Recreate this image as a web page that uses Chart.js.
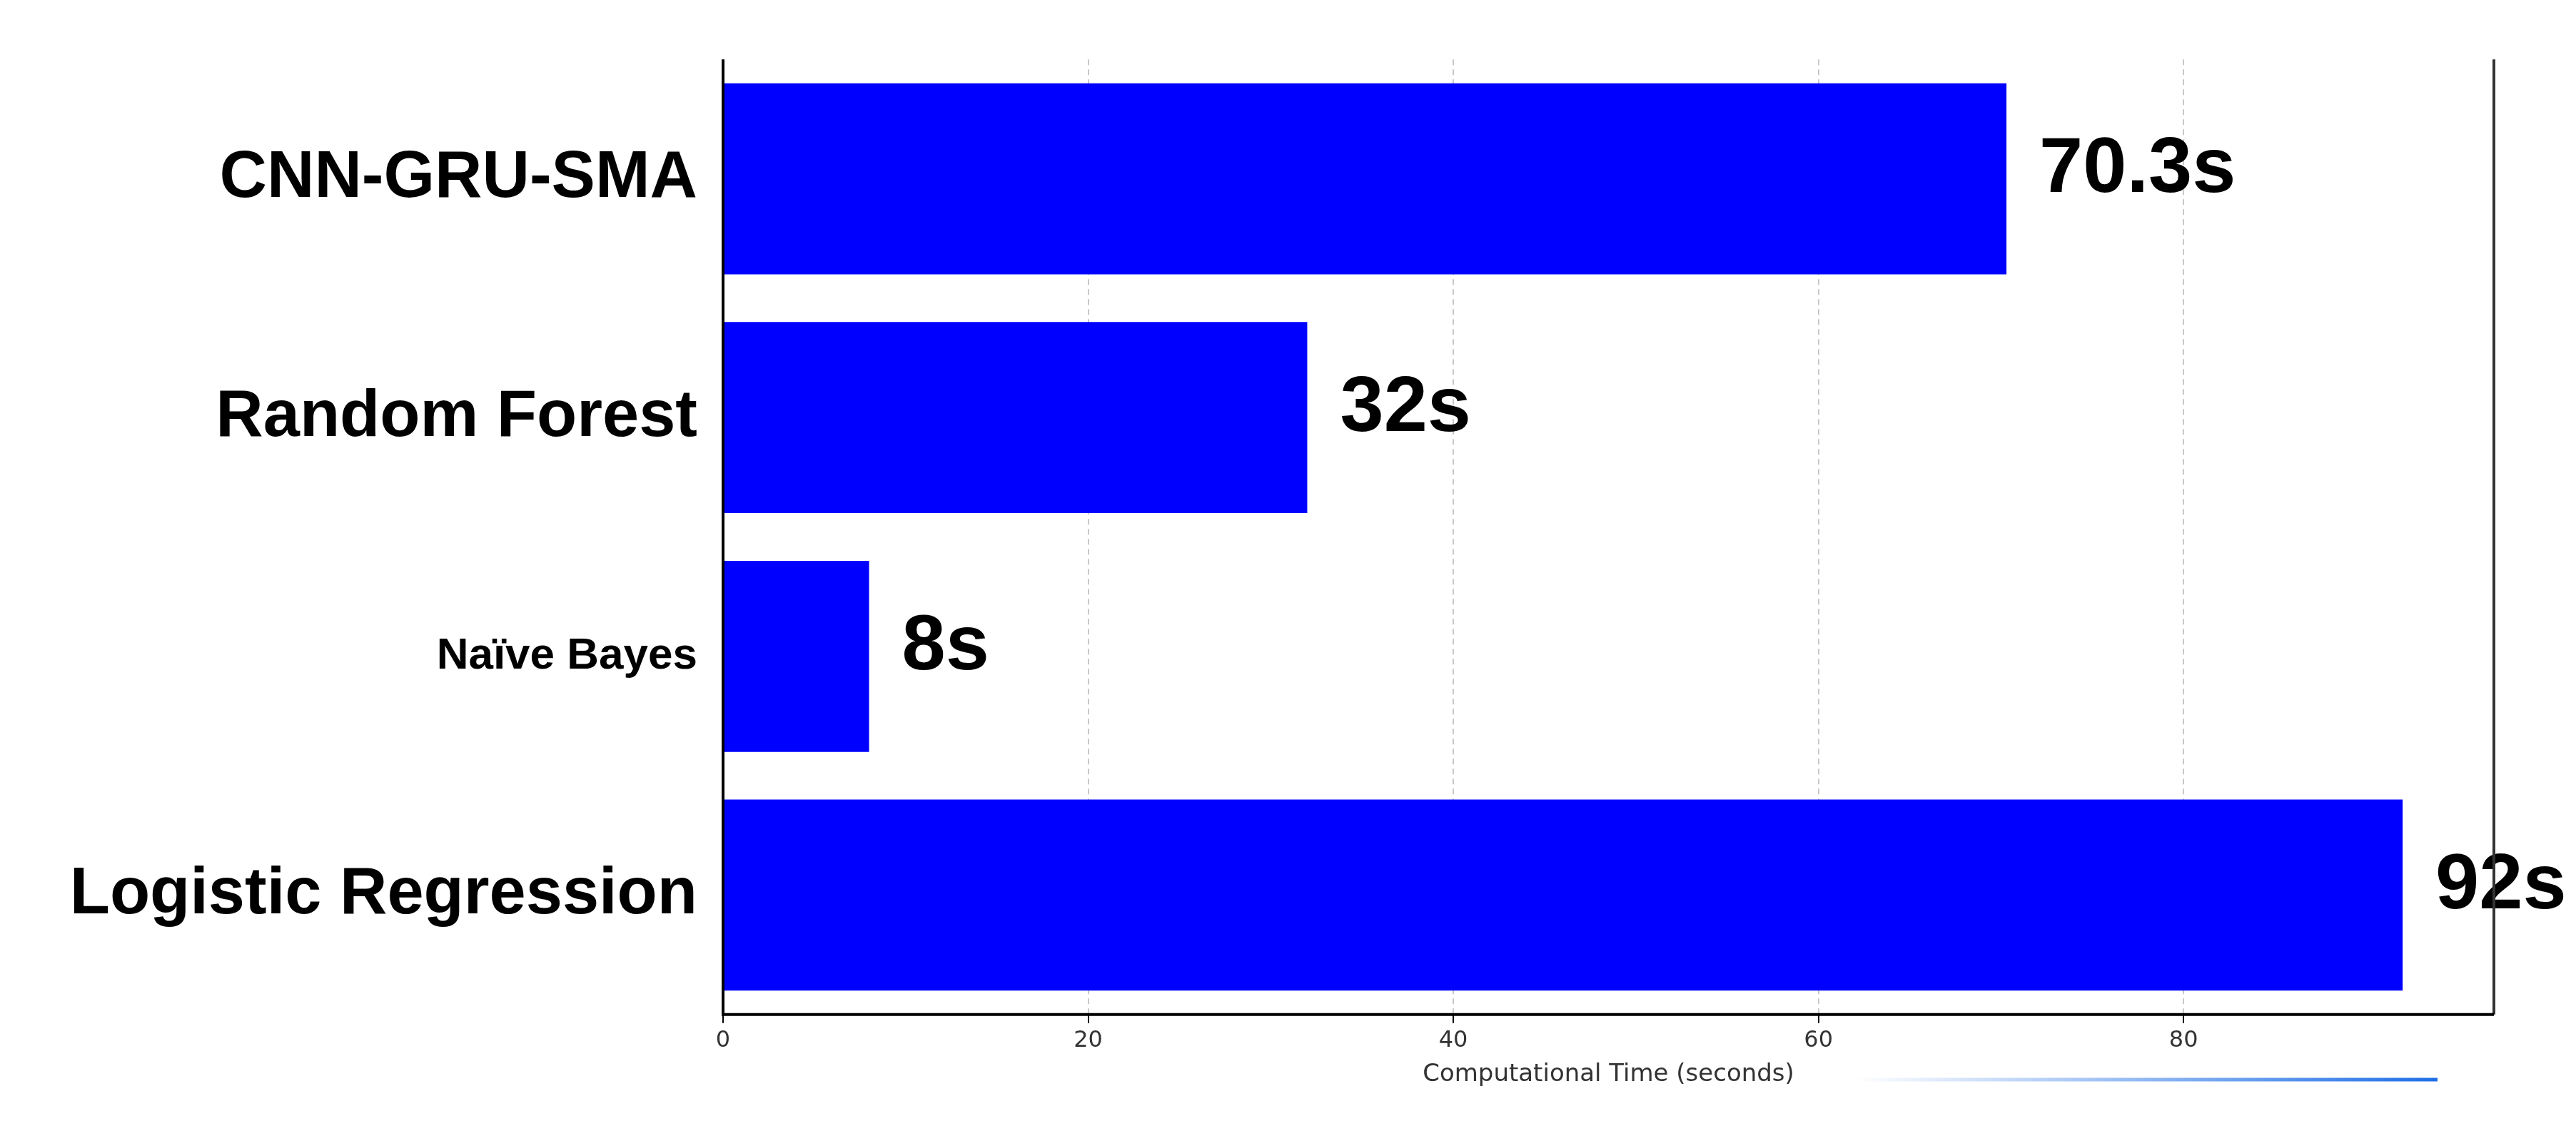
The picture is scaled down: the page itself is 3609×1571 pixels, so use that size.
<!DOCTYPE html>
<html><head><meta charset="utf-8">
<script src="https://cdn.jsdelivr.net/npm/chart.js@4/dist/chart.umd.min.js"></script>
<style>html,body{margin:0;background:#fff}#w{width:3609px;height:1571px;position:relative}</style>
</head><body><div id="w"><canvas id="c"></canvas></div>
<script>
const categories = ["CNN-GRU-SMA","Random Forest","Naïve Bayes","Logistic Regression"];
const times = [70.3, 32, 8, 92];
const valueLabels = ["70.3s","32s","8s","92s"];
const labelSizes = [92, 92, 62, 92];
const xTicks = [0,20,40,60,80];

const extras = {
  id:'extras',
  afterDatasetsDraw(ch){
    const ctx = ch.ctx, a = ch.chartArea, meta = ch.getDatasetMeta(0);
    ctx.save();
    ctx.font = 'bold 110px "Liberation Sans", Arial, sans-serif';
    ctx.fillStyle = '#000'; ctx.textBaseline = 'middle';
    meta.data.forEach((b,i)=>{ctx.fillText(valueLabels[i], b.x+46, b.y-12);});
    ctx.strokeStyle = '#333'; ctx.lineWidth = 4;
    ctx.beginPath(); ctx.moveTo(a.right, a.top); ctx.lineTo(a.right, a.bottom); ctx.stroke();
    ctx.strokeStyle = '#000';
    ctx.beginPath(); ctx.moveTo(a.left, a.top); ctx.lineTo(a.left, a.bottom); ctx.lineTo(a.right, a.bottom); ctx.stroke();
    const g = ctx.createLinearGradient(2600,0,3415,0);
    g.addColorStop(0,'rgba(30,110,230,0)'); g.addColorStop(1,'rgba(30,110,230,1)');
    ctx.strokeStyle = g; ctx.lineWidth = 5;
    ctx.beginPath(); ctx.moveTo(2600,1513); ctx.lineTo(3415,1513); ctx.stroke();
    ctx.restore();
  }
};

new Chart(document.getElementById('c'), {
  type:'bar',
  data:{labels:categories, datasets:[{data:times, backgroundColor:'#0000ff', barPercentage:0.8, categoryPercentage:1}]},
  options:{
    indexAxis:'y', responsive:true, maintainAspectRatio:false, animation:false,
    layout:{padding:{left:20,top:46,right:115,bottom:40}},
    plugins:{legend:{display:false}, tooltip:{enabled:false}},
    scales:{
      x:{min:0,max:97, afterBuildTicks(s){s.ticks = xTicks.map(v=>({value:v}));},
        grid:{color:'#c8c8c8', lineWidth:2, tickLength:12, tickColor:'#000'},
        border:{display:false, dash:[8,6]},
        ticks:{color:'#333', font:{size:32, family:'"DejaVu Sans"'}, padding:6},
        title:{display:true, text:'Computational Time (seconds)', color:'#333', font:{size:34, family:'"DejaVu Sans"'}, padding:{top:2}}},
      y:{grid:{display:false}, border:{display:false},
        afterFit(s){s.width = 993;},
        ticks:{color:'#000', padding:28, font:(c)=>({size:labelSizes[c.index]||92, weight:'bold', family:'"Liberation Sans", Arial, sans-serif'})}}
    }
  },
  plugins:[extras]
});
</script></body></html>
